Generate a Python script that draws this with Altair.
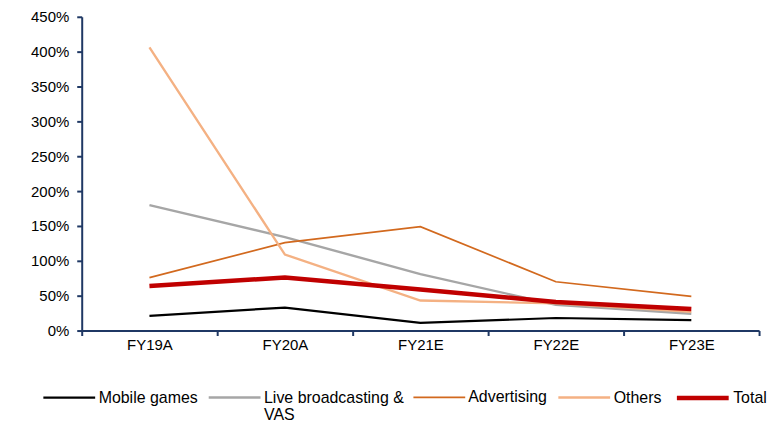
import altair as alt
import pandas as pd

years = ["FY19A", "FY20A", "FY21E", "FY22E", "FY23E"]
series = ["Mobile games", "Live broadcasting & VAS", "Advertising", "Others", "Total"]
mobile_games = [21, 33, 11, 18, 15]
live_broadcasting = [180, 134, 81, 37, 24]
advertising = [76, 126, 149, 70, 49]
others = [406, 109, 43, 39, 27]
total = [64, 76, 59, 41, 31]
colors = ["#000000", "#A6A6A6", "#D2691E", "#F4B183", "#C00000"]
widths = [2.2, 2.4, 1.7, 2.4, 4.5]

vals = [mobile_games, live_broadcasting, advertising, others, total]
rows = []
for s, v in zip(series, vals):
    for i, (y, x) in enumerate(zip(years, v)):
        rows.append({"year": y, "series": s, "value": x / 100.0, "ord": series.index(s)})
df = pd.DataFrame(rows)

legend = alt.Legend(
    title=None, orient="none", direction="horizontal", legendX=-40, legendY=354,
    symbolType="stroke", symbolSize=2704, labelFont="Arial", labelFontSize=16,
    labelColor="#000000", columnPadding=5, labelOffset=2, labelLimit=400,
    labelExpr="datum.label == 'Live broadcasting & VAS' ? ['Live broadcasting &', 'VAS'] : [datum.label, '']",
    labelBaseline="middle",
)

chart = alt.Chart(df).mark_line().encode(
    x=alt.X("year:N", sort=years, bandPosition=0.5,
            scale=alt.Scale(type="band", paddingInner=0, paddingOuter=0),
            axis=alt.Axis(title=None, labelAngle=0, tickBand="extent", domainColor="#1F3864",
                          tickColor="#1F3864", domainWidth=2, tickWidth=2, tickSize=5,
                          labelFont="Arial", labelFontSize=15, labelColor="#000000", labelPadding=2)),
    y=alt.Y("value:Q", scale=alt.Scale(domain=[0, 4.5], nice=False),
            axis=alt.Axis(title=None, format=".0%", values=[i * 0.5 for i in range(10)], grid=False,
                          domainColor="#1F3864", tickColor="#1F3864", domainWidth=2, tickWidth=2,
                          tickSize=5, labelFont="Arial", labelFontSize=15, labelColor="#000000",
                          labelPadding=8)),
    color=alt.Color("series:N", sort=series, scale=alt.Scale(domain=series, range=colors), legend=legend),
    strokeWidth=alt.StrokeWidth("series:N", sort=series,
                                scale=alt.Scale(type="ordinal", domain=series, range=widths), legend=legend),
    order=alt.Order("ord:Q"),
).properties(
    width=680, height=315,
    autosize=alt.AutoSizeParams(type="none"),
    padding={"left": 74, "top": 8, "right": 16, "bottom": 92},
).configure_view(stroke=None)

chart.save("out.html", embed_options={"renderer": "svg", "actions": False})
